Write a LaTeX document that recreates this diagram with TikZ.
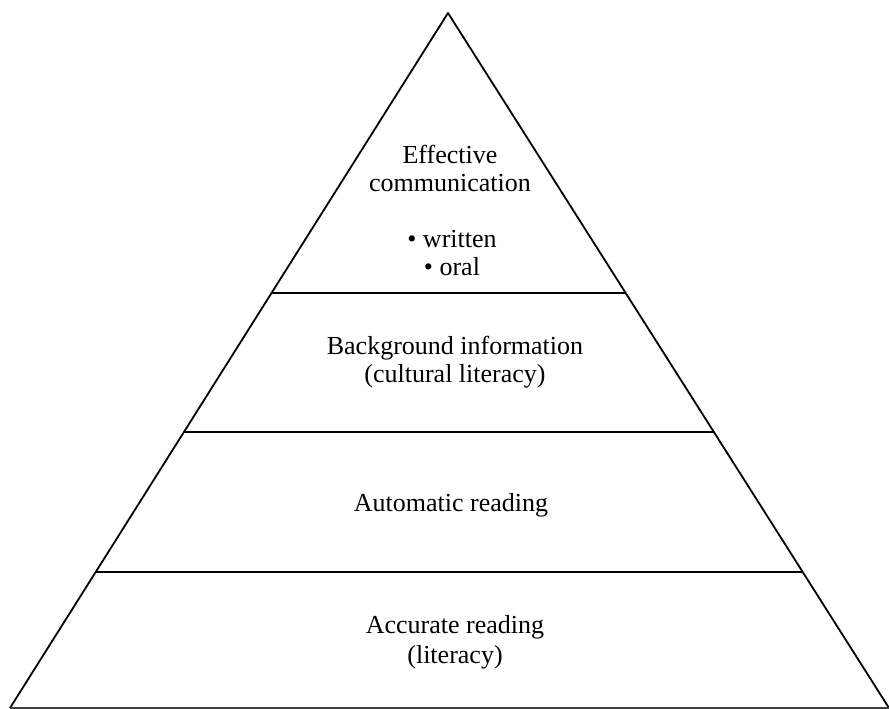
\documentclass[tikz,border=0pt]{standalone}
\usepackage{fontspec}
\setmainfont{Liberation Serif}
\usetikzlibrary{calc}

\begin{document}
\begin{tikzpicture}[x=1pt, y=-1pt,
    side/.style={line width=1.8pt, line join=round},
    tier/.style={line width=2.6pt},
    level/.style={align=center, font=\fontsize{26}{28}\selectfont}]
    \useasboundingbox (0,0) rectangle (889,709);

    % outline of the pyramid
    \coordinate (apex) at (448,13);
    \coordinate (base_left) at (10,708);
    \coordinate (base_right) at (889,708);
    \draw[side] (base_left) -- (apex) -- (base_right);
    \draw[line width=1.2pt, black!75] (base_left) -- (base_right);

    % dividing lines
    \coordinate (tier1_left) at ($(apex)!0.4029!(base_left)$);
    \coordinate (tier1_right) at ($(apex)!0.4029!(base_right)$);
    \coordinate (tier2_left) at ($(apex)!0.6029!(base_left)$);
    \coordinate (tier2_right) at ($(apex)!0.6029!(base_right)$);
    \coordinate (tier3_left) at ($(apex)!0.8043!(base_left)$);
    \coordinate (tier3_right) at ($(apex)!0.8043!(base_right)$);
    \draw[tier] (tier1_left) -- (tier1_right);
    \draw[tier] (tier2_left) -- (tier2_right);
    \draw[tier] (tier3_left) -- (tier3_right);

    % levels
    \node[level] (communication) at (450,168) {Effective\\communication};
    \node[level] (kinds) at (452,253) {\textbullet\ written\\\textbullet\ oral};
    \node[level] (background) at (455,362) {Background information\\(cultural literacy)};
    \node[level] (automatic) at (451,505) {Automatic reading};
    \node[level, font=\fontsize{26}{30}\selectfont] (accurate) at (455,642) {Accurate reading\\(literacy)};
\end{tikzpicture}
\end{document}
